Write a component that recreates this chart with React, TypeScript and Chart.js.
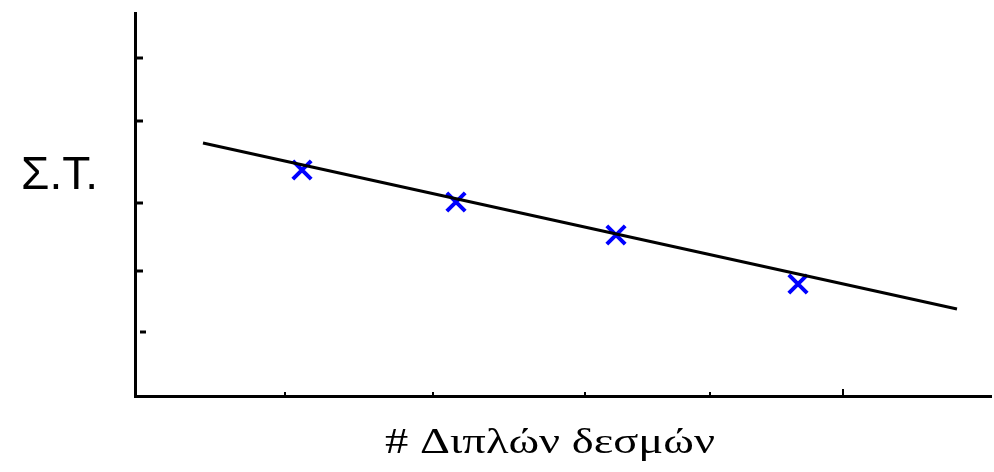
import React, { useEffect, useRef } from "react";
import { Chart, registerables } from "chart.js";

Chart.register(...registerables);

// Data (arbitrary units)
const pointX = [167, 321, 481, 663];
const pointY = [227, 195, 162, 113];
const fitX = [68, 822];
const fitY = [254, 88];
const xTicks = [150, 298, 450, 575, 708];
const yTicks = [65, 126, 194, 276, 339];
const yLabel = "Σ.Τ.";
const xLabel = "# Διπλών δεσμών";

const axesPlugin = {
  id: "customAxes",
  afterDraw(chart: any) {
    const { ctx, chartArea } = chart;
    const xs = chart.scales.x;
    const ys = chart.scales.y;
    ctx.save();
    ctx.strokeStyle = "#000";
    ctx.lineCap = "butt";
    // y axis
    ctx.lineWidth = 3;
    ctx.beginPath();
    ctx.moveTo(chartArea.left + 0.5, chartArea.top);
    ctx.lineTo(chartArea.left + 0.5, chartArea.bottom + 1);
    ctx.stroke();
    // x axis
    ctx.beginPath();
    ctx.moveTo(chartArea.left - 1, chartArea.bottom - 0.5);
    ctx.lineTo(chart.width - 2, chartArea.bottom - 0.5);
    ctx.stroke();
    // y ticks
    ctx.lineWidth = 3;
    yTicks.forEach((v, i) => {
      const py = ys.getPixelForValue(v);
      ctx.beginPath();
      ctx.moveTo(chartArea.left + (i === 0 ? 5 : 0), py);
      ctx.lineTo(chartArea.left + (i === 0 ? 11 : 8), py);
      ctx.stroke();
    });
    // x ticks
    ctx.lineWidth = 2;
    xTicks.forEach((v, i) => {
      const px = xs.getPixelForValue(v);
      ctx.beginPath();
      ctx.moveTo(px, chartArea.bottom - 1);
      ctx.lineTo(px, chartArea.bottom - (i === xTicks.length - 1 ? 8 : 5));
      ctx.stroke();
    });
    // labels
    ctx.fillStyle = "#000";
    ctx.font = '46px "Liberation Sans", Arial, sans-serif';
    ctx.textAlign = "left";
    ctx.textBaseline = "alphabetic";
    ctx.fillText(yLabel, 21, 189);
    ctx.font = '35px "Liberation Serif", "Times New Roman", serif';
    ctx.textAlign = "center";
    const w = ctx.measureText(xLabel).width;
    const sx = 330 / w;
    ctx.translate(550, 453);
    ctx.scale(sx, 1);
    ctx.fillText(xLabel, 0, 0);
    ctx.restore();
  },
};

export default function App() {
  const ref = useRef<HTMLCanvasElement>(null);
  useEffect(() => {
    if (!ref.current) return;
    const chart = new Chart(ref.current, {
      type: "scatter",
      data: {
        datasets: [
          {
            type: "line",
            data: fitX.map((x, i) => ({ x, y: fitY[i] })),
            borderColor: "#000",
            borderWidth: 3,
            pointRadius: 0,
            fill: false,
          } as any,
          {
            data: pointX.map((x, i) => ({ x, y: pointY[i] })),
            pointStyle: "crossRot",
            pointRadius: 13,
            pointBorderWidth: 4,
            borderColor: "#0000ff",
            backgroundColor: "#0000ff",
          },
        ],
      },
      options: {
        animation: false,
        responsive: false,
        maintainAspectRatio: false,
        layout: { autoPadding: false, padding: { left: 135, right: 7, top: 12, bottom: 75 } },
        plugins: { legend: { display: false }, tooltip: { enabled: false } },
        scales: {
          x: { type: "linear", min: 0, max: 852, display: false },
          y: { type: "linear", min: 0, max: 385, display: false },
        },
      },
      plugins: [axesPlugin],
    });
    return () => chart.destroy();
  }, []);
  return (
    <div style={{ position: "fixed", left: 0, top: 0, width: 994, height: 472, background: "#fff" }}>
      <canvas ref={ref} width={994} height={472} style={{ width: 994, height: 472 }} />
    </div>
  );
}
